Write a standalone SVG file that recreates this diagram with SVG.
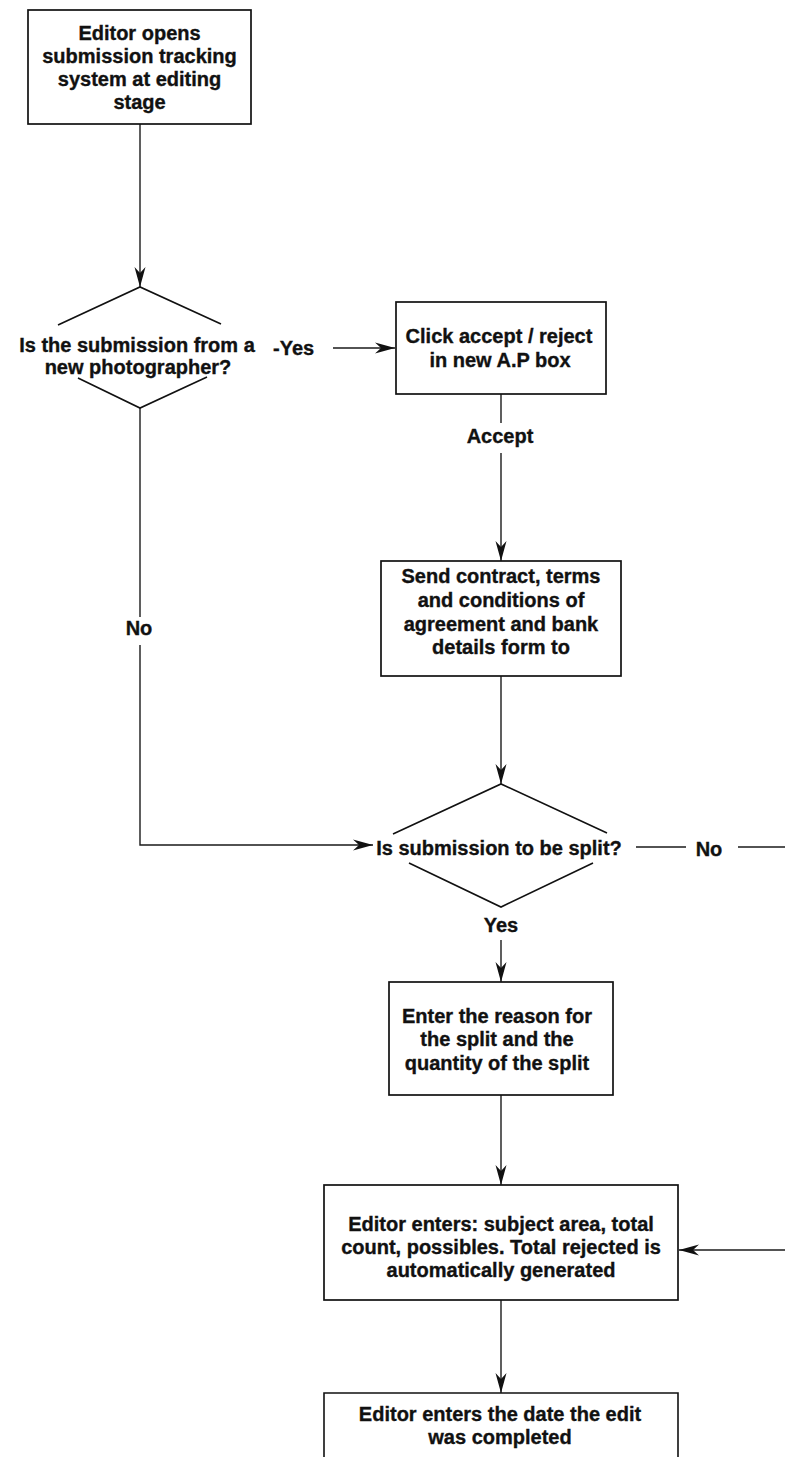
<svg xmlns="http://www.w3.org/2000/svg" width="785" height="1457" viewBox="0 0 785 1457">
  <style>
    .box { fill: #fff; stroke: #111; stroke-width: 1.7; }
    .edge { fill: none; stroke: #111; stroke-width: 1.6; stroke-linecap: butt; }
    .con { fill: none; stroke: #1a1a1a; stroke-width: 1.4; }
    .t { font-family: "Liberation Sans", Arial, Helvetica, sans-serif; font-size: 20px; font-weight: bold; fill: #111; stroke: #111; stroke-width: 0.35; text-anchor: middle; }
    .ts { text-anchor: start; }
  </style>
  <defs>
    <marker id="arrow" markerUnits="userSpaceOnUse" viewBox="-21 -6 22 12" refX="0" refY="0" markerWidth="22" markerHeight="12" orient="auto">
      <path d="M0,0 L-20,-5.5 L-14,0 L-20,5.5 Z" fill="#111"/>
    </marker>
  </defs>
  <rect width="785" height="1457" fill="#fff"/>

  <!-- connectors and their labels -->
  <g id="connectors">
    <path class="con" d="M140,124 V287" marker-end="url(#arrow)"/>
    <path class="con" d="M333,348 H395" marker-end="url(#arrow)"/>
    <path class="con" d="M501,394 V423"/>
    <path class="con" d="M501,453 V561" marker-end="url(#arrow)"/>
    <path class="con" d="M501,676 V784" marker-end="url(#arrow)"/>
    <path class="con" d="M140,408 V617"/>
    <path class="con" d="M140,645 V845 H373" marker-end="url(#arrow)"/>
    <path class="con" d="M636,847 H686"/>
    <path class="con" d="M738,847 H785"/>
    <path class="con" d="M501,940 V982" marker-end="url(#arrow)"/>
    <path class="con" d="M501,1095 V1185" marker-end="url(#arrow)"/>
    <path class="con" d="M785,1250 H679" marker-end="url(#arrow)"/>
    <path class="con" d="M501,1300 V1393" marker-end="url(#arrow)"/>
    <text class="t ts" x="273" y="355">-Yes</text>
    <text class="t" x="500" y="443">Accept</text>
    <text class="t" x="139" y="635">No</text>
    <text class="t" x="709" y="856">No</text>
    <text class="t" x="501" y="932">Yes</text>
  </g>

  <!-- start: open tracking system -->
  <g id="open-system">
    <rect class="box" x="28" y="10" width="223" height="114"/>
    <text class="t" x="139.5" y="39.5">Editor opens</text>
    <text class="t" x="139.5" y="62.8">submission tracking</text>
    <text class="t" x="139.5" y="86">system at editing</text>
    <text class="t" x="139.5" y="109.3">stage</text>
  </g>

  <!-- decision: new photographer -->
  <g id="new-photographer">
    <path class="edge" d="M58,325 L140,287 L221,324"/>
    <path class="edge" d="M78,378 L140,408 L207,377"/>
    <text class="t" x="137" y="352">Is the submission from a</text>
    <text class="t" x="138" y="374">new photographer?</text>
  </g>

  <!-- accept / reject new photographer -->
  <g id="accept-reject">
    <rect class="box" x="396" y="302" width="210" height="92"/>
    <text class="t" x="499" y="343">Click accept / reject</text>
    <text class="t" x="500" y="367">in new A.P box</text>
  </g>

  <!-- send contract -->
  <g id="send-contract">
    <rect class="box" x="381" y="561" width="240" height="115"/>
    <text class="t" x="501" y="583">Send contract, terms</text>
    <text class="t" x="501" y="607">and conditions of</text>
    <text class="t" x="501" y="631">agreement and bank</text>
    <text class="t" x="501" y="654">details form to</text>
  </g>

  <!-- decision: split -->
  <g id="split-decision">
    <path class="edge" d="M393,834 L501,784 L607,833"/>
    <path class="edge" d="M409,863 L501,907 L593,863"/>
    <text class="t" x="499" y="855">Is submission to be split?</text>
  </g>

  <!-- split reason -->
  <g id="split-reason">
    <rect class="box" x="389" y="982" width="224" height="113"/>
    <text class="t" x="497" y="1023">Enter the reason for</text>
    <text class="t" x="497" y="1046">the split and the</text>
    <text class="t" x="497" y="1070">quantity of the split</text>
  </g>

  <!-- counts -->
  <g id="enter-counts">
    <rect class="box" x="324" y="1185" width="354" height="115"/>
    <text class="t" x="501" y="1231">Editor enters: subject area, total</text>
    <text class="t" x="501" y="1254">count, possibles. Total rejected is</text>
    <text class="t" x="501" y="1277">automatically generated</text>
  </g>

  <!-- completion date (box continues past the page edge) -->
  <g id="enter-date">
    <path class="edge" d="M324,1457 V1393 H678 V1457"/>
    <text class="t" x="500" y="1421">Editor enters the date the edit</text>
    <text class="t" x="500" y="1444">was completed</text>
  </g>
</svg>
